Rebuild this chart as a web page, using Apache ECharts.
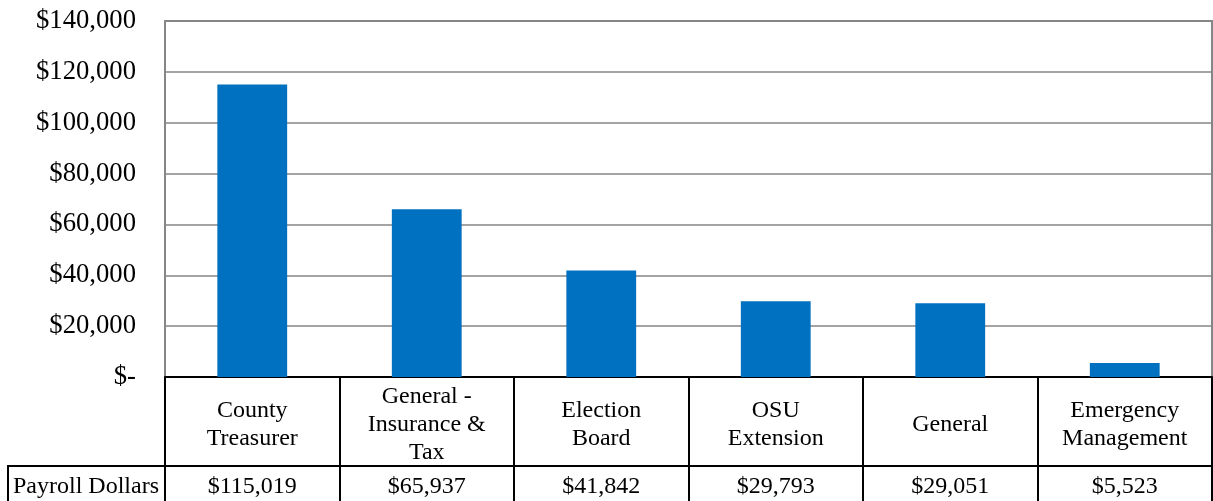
<!DOCTYPE html>
<html>
<head>
<meta charset="utf-8">
<script src="https://cdn.jsdelivr.net/npm/echarts@6/dist/echarts.min.js"></script>
<style>
  html, body { margin: 0; padding: 0; background: #ffffff; }
  #chart { width: 1213px; height: 501px; }
</style>
</head>
<body>
<div id="chart"></div>
<script>
// Departments (row labels of the data table) and their payroll totals
const categories = [
  'County\nTreasurer',
  'General -\nInsurance &\nTax',
  'Election\nBoard',
  'OSU\nExtension',
  'General',
  'Emergency\nManagement'
];
const payroll = [115019, 65937, 41842, 29793, 29051, 5523];
const seriesName = 'Payroll Dollars';

// Value axis ticks
const yMin = 0;
const yMax = 140000;
const yStep = 20000;

const FONT = 'Liberation Serif, Times New Roman, serif';

function money(v) {
  return v === 0 ? '$-' : '$' + v.toLocaleString('en-US');
}

const chart = echarts.init(document.getElementById('chart'), null, { renderer: 'canvas' });

const option = {
  backgroundColor: '#ffffff',
  animation: false,
  grid: {
    left: 165, right: 1, top: 21, bottom: 124,
    show: true, borderColor: '#868686', borderWidth: 2,
    backgroundColor: 'transparent'
  },
  yAxis: {
    type: 'value',
    min: yMin, max: yMax, interval: yStep,
    axisLine: { show: true, lineStyle: { color: '#868686', width: 2 } },
    axisTick: { show: false },
    axisLabel: {
      formatter: money,
      fontFamily: FONT, fontSize: 26.67, color: '#000000', margin: 29
    },
    splitLine: { show: true, lineStyle: { color: '#868686', width: 1.5 } }
  },
  xAxis: [
    {
      // category row of the data table
      type: 'category',
      data: categories,
      position: 'bottom',
      axisLine: { show: true, onZero: false, lineStyle: { color: '#000000', width: 2 } },
      axisTick: { show: true, length: 124, lineStyle: { color: '#000000', width: 2 } },
      axisLabel: {
        interval: 0,
        fontFamily: FONT, fontSize: 24, color: '#000000',
        lineHeight: 28, verticalAlign: 'middle', margin: 48
      },
      splitLine: { show: false }
    },
    {
      // value row of the data table
      type: 'category',
      data: categories,
      position: 'bottom',
      offset: 89,
      axisLine: { show: true, onZero: false, lineStyle: { color: '#000000', width: 2 } },
      axisTick: { show: false },
      axisLabel: {
        interval: 0,
        formatter: (v, i) => money(payroll[i]),
        fontFamily: FONT, fontSize: 24, color: '#000000',
        verticalAlign: 'middle', margin: 21
      },
      splitLine: { show: false }
    }
  ],
  series: [
    {
      name: seriesName,
      type: 'bar',
      xAxisIndex: 0,
      data: payroll,
      barWidth: '40%',
      itemStyle: { color: '#0070C0' }
    }
  ],
  graphic: [
    // series-name cell at the left of the value row
    { type: 'line', shape: { x1: 8, y1: 466, x2: 166, y2: 466 }, style: { stroke: '#000', lineWidth: 2 } },
    { type: 'line', shape: { x1: 8, y1: 465, x2: 8, y2: 501 }, style: { stroke: '#000', lineWidth: 2 } },
    {
      type: 'text', x: 86, y: 487,
      style: {
        text: seriesName, fontFamily: FONT, fontSize: 24, fill: '#000',
        align: 'center', verticalAlign: 'middle'
      }
    }
  ]
};

chart.setOption(option);
</script>
</body>
</html>
